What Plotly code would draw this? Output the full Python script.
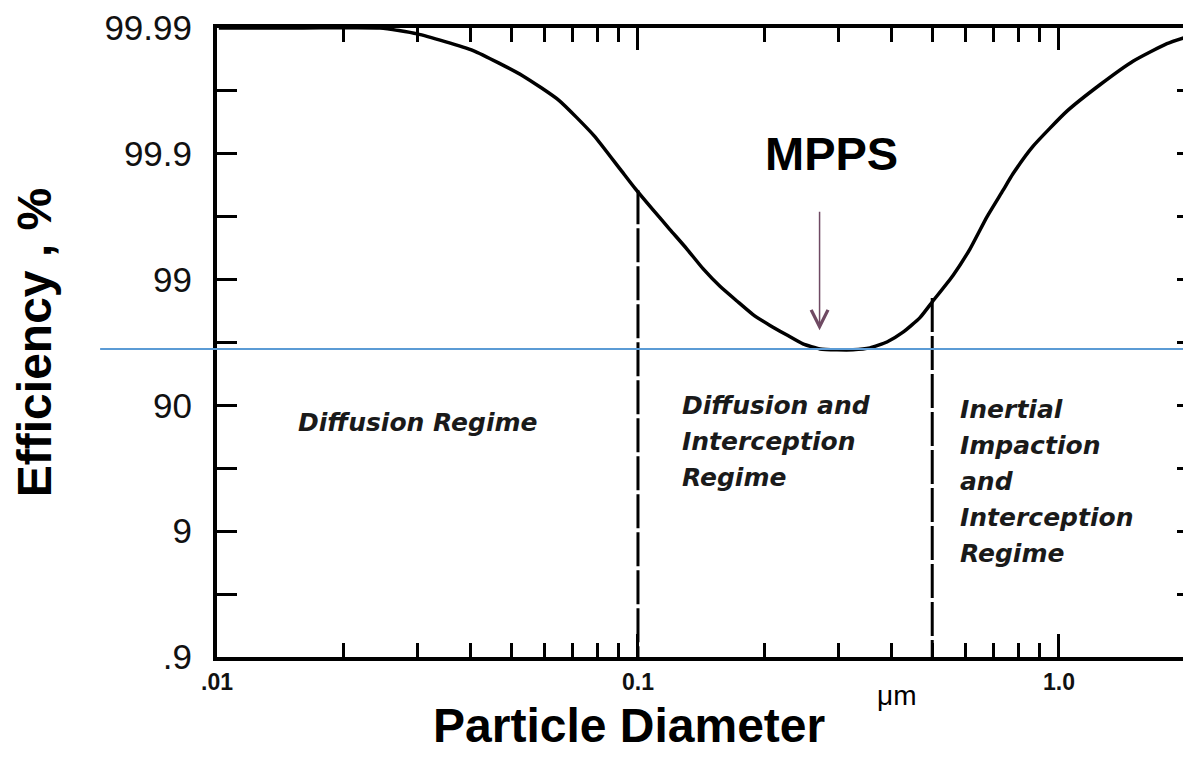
import numpy as np
import plotly.graph_objects as go

# ---------------- data ----------------
diameter_um = [0.0101, 0.0160, 0.0244, 0.0299, 0.0406, 0.0533, 0.0649, 0.0786, 0.0906, 0.0984,
               0.1086, 0.1191, 0.1307, 0.1427, 0.1566, 0.1718, 0.1876, 0.2059, 0.2259, 0.2465,
               0.2706, 0.2970, 0.3241, 0.3557, 0.3903, 0.4262, 0.4676, 0.5020, 0.5601, 0.6145,
               0.6745, 0.7362, 0.7776, 0.8673, 1.0447, 1.2515, 1.4993, 1.805, 2.047]
# vertical position on the probability-style efficiency scale (0 = ".9" ... 5 = "99.99")
efficiency_level = [5.0, 5.0, 5.0, 4.953, 4.821, 4.619, 4.425, 4.145, 3.880, 3.725,
                    3.554, 3.398, 3.243, 3.087, 2.947, 2.830, 2.722, 2.636, 2.559, 2.489,
                    2.449, 2.442, 2.442, 2.457, 2.504, 2.582, 2.698, 2.830, 3.033, 3.243,
                    3.499, 3.709, 3.841, 4.059, 4.339, 4.549, 4.736, 4.876, 4.938]

y_tick_levels = [0, 1, 2, 3, 4, 5]
y_tick_labels = [".9", "9", "90", "99", "99.9", "99.99"]
y_minor_levels = [0.5, 1.5, 2.5, 3.5, 4.5]
y_right_ticks = [0.5, 1, 1.5, 2, 2.5, 3, 3.5, 4, 4.5]

x_major = [0.01, 0.1, 1.0]
x_major_labels = [".01", "0.1", "1.0"]
x_minor = [0.02, 0.03, 0.04, 0.05, 0.06, 0.07, 0.08, 0.09,
           0.2, 0.3, 0.4, 0.5, 0.6, 0.7, 0.8, 0.9]
x_max_um = 2.059

boundary_um = [0.1, 0.5]
boundary_level = [3.71, 2.854]

mpps_um = 0.27
mpps_level = 2.449
mpps_arrow_tip_level = 2.597
mpps_label_um = 0.2888
mpps_label_level = 4.00

regime_lines = [["Diffusion Regime"],
                ["Diffusion and", "Interception", "Regime"],
                ["Inertial", "Impaction", "and", "Interception", "Regime"]]
regime_x_um = [0.01574, 0.1286, 0.5884]
regime_y_level = [1.866, 1.998, 1.967]

# ---------------- figure ----------------
# the page body adds an 8 px margin, so the figure is 8 px smaller than the window
FONT = "Liberation Sans"
xr = [np.log10(x_major[0]), np.log10(x_max_um)]
yr = [y_tick_levels[0], y_tick_levels[-1]]

fig = go.Figure()

fig.add_trace(go.Scatter(
    x=diameter_um, y=efficiency_level, mode="lines",
    line=dict(color="black", width=3.5, shape="spline", smoothing=0.5),
    showlegend=False, hoverinfo="skip"))

for bx, by in zip(boundary_um, boundary_level):
    fig.add_trace(go.Scatter(
        x=[bx, bx], y=[by, yr[0]], mode="lines",
        line=dict(color="black", width=3, dash="34px,4px"),
        showlegend=False, hoverinfo="skip"))

# invisible trace to host the top / right mirror axes
fig.add_trace(go.Scatter(x=[x_major[1]], y=[mpps_level], xaxis="x2", yaxis="y2",
                         mode="markers", marker=dict(opacity=0), showlegend=False,
                         hoverinfo="skip"))

fig.update_layout(
    width=1183, height=750,
    margin=dict(l=209, r=0, t=6, b=101),
    paper_bgcolor="white", plot_bgcolor="white",
    font=dict(family=FONT, color="black"),
    xaxis=dict(type="log", range=xr, tickmode="array", tickvals=x_major, ticktext=x_major_labels,
               ticks="inside", ticklen=23, tickwidth=3, tickcolor="black",
               minor=dict(tickmode="array", tickvals=x_minor, ticks="inside", ticklen=14,
                          tickwidth=3, tickcolor="black", showgrid=False),
               showline=True, linewidth=3.5, linecolor="black", mirror=False,
               showgrid=False, zeroline=False,
               tickfont=dict(size=23, family=FONT, color="#111", weight="bold"),
               ticklabelstandoff=2, ticklabeloverflow="allow"),
    xaxis2=dict(type="log", range=xr, overlaying="x", side="top", anchor="y2",
                tickmode="array", tickvals=x_major[1:], showticklabels=False,
                ticks="inside", ticklen=22, tickwidth=3, tickcolor="black",
                minor=dict(tickmode="array", tickvals=x_minor, ticks="inside", ticklen=14,
                           tickwidth=3, tickcolor="black", showgrid=False),
                showline=True, linewidth=3.5, linecolor="black", showgrid=False, zeroline=False),
    yaxis=dict(range=yr, tickmode="array", tickvals=y_tick_levels, ticktext=y_tick_labels,
               ticks="inside", ticklen=20, tickwidth=3, tickcolor="black",
               minor=dict(tickmode="array", tickvals=y_minor_levels, ticks="inside", ticklen=20,
                          tickwidth=3, tickcolor="black", showgrid=False),
               showline=True, linewidth=4, linecolor="black", mirror=False,
               showgrid=False, zeroline=False,
               tickfont=dict(size=35, family=FONT, color="#111"),
               ticklabelstandoff=14, ticklabeloverflow="allow",
               title=dict(text="<b>Efficiency , %</b>", font=dict(size=48, family=FONT, color="black"),
                          standoff=52)),
    yaxis2=dict(range=yr, overlaying="y", side="right", anchor="x2",
                tickmode="array", tickvals=y_right_ticks, showticklabels=False,
                ticks="inside", ticklen=14, tickwidth=3, tickcolor="black",
                showline=False, showgrid=False, zeroline=False),
)

# MPPS reference line (across whole width, extends left of plot)
y_paper = (mpps_level - yr[0]) / (yr[1] - yr[0])
fig.add_shape(type="line", xref="paper", yref="paper", x0=-0.12, x1=1.0, y0=y_paper, y1=y_paper,
              line=dict(color="#5b9bd5", width=2))

# MPPS arrow + label
fig.add_annotation(x=np.log10(mpps_um), y=mpps_arrow_tip_level, xref="x", yref="y",
                   ax=0, ay=-120, showarrow=True, arrowhead=5, arrowsize=2.2, arrowwidth=1.5,
                   arrowcolor="#6f4a63", text="")
fig.add_annotation(x=np.log10(mpps_label_um), y=mpps_label_level, xref="x", yref="y", showarrow=False,
                   text="<b>MPPS</b>", font=dict(size=47, family=FONT, color="black"),
                   xanchor="center", yanchor="middle")

# regime labels (one annotation per line, 36 px line pitch)
for lines, rx, ry in zip(regime_lines, regime_x_um, regime_y_level):
    for i, ln in enumerate(lines):
        fig.add_annotation(x=np.log10(rx), y=ry, xref="x", yref="y", showarrow=False,
                           text="<i><b>" + ln + "</b></i>", xanchor="left", yanchor="middle",
                           yshift=-36 * i, xshift=-4,
                           font=dict(size=25, family="DejaVu Sans", color="#1a1a1a"))

# x axis title and unit
fig.add_annotation(xref="paper", yref="paper", x=0.423, y=-0.155, showarrow=False,
                   text="<b>Particle Diameter</b>", font=dict(size=48, family=FONT, color="black"),
                   xanchor="center", yanchor="bottom")
fig.add_annotation(xref="paper", yref="paper", x=0.698, y=-0.062, showarrow=False,
                   text="μm", font=dict(size=28, family=FONT, color="black"),
                   xanchor="center", yanchor="middle")

fig.write_html("out.html")
